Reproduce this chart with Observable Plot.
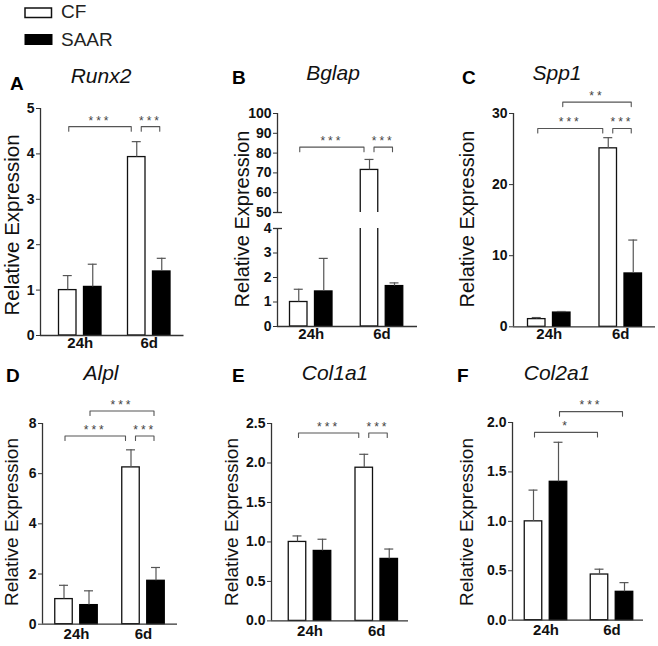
<!DOCTYPE html>
<html>
<head>
<meta charset="utf-8">
<script src="https://cdn.jsdelivr.net/npm/d3@7"></script>
<script src="https://cdn.jsdelivr.net/npm/@observablehq/plot@0.6"></script>
<style>
  body { margin: 0; background: #fff; }
  #fig { position: relative; width: 658px; height: 646px; overflow: hidden; background: #fff;
         font-family: "Liberation Sans", Arial, Helvetica, sans-serif; }
</style>
</head>
<body>
<div id="fig"></div>
<script>
// ---------------- data ----------------
const groups = ["24h", "6d"];
const series = ["CF", "SAAR"];
const panelLetters = ["A", "B", "C", "D", "E", "F"];
const geneNames = ["Runx2", "Bglap", "Spp1", "Alpl", "Col1a1", "Col2a1"];
const yLabel = "Relative Expression";

const runx2CF = [1.0, 3.93];
const runx2CFErr = [0.32, 0.34];
const runx2SAAR = [1.07, 1.41];
const runx2SAARErr = [0.50, 0.29];
const runx2Ticks = [0, 1, 2, 3, 4, 5];
const runx2Sig = [["24h", "CF", "6d", "CF", 4.6, "***"], ["6d", "CF", "6d", "SAAR", 4.6, "***"]];

const bglapCF = [1.0, 71.5];
const bglapCFErr = [0.52, 5.3];
const bglapSAAR = [1.43, 1.65];
const bglapSAARErr = [1.35, 0.13];
const bglapTicksLow = [0, 1, 2, 3, 4];
const bglapTicksHigh = [50, 60, 70, 80, 90, 100];
const bglapSig = [["24h", "CF", "6d", "CF", 83, "***"], ["6d", "CF", "6d", "SAAR", 83, "***"]];

const spp1CF = [1.08, 25.1];
const spp1CFErr = [0.22, 1.5];
const spp1SAAR = [2.0, 7.5];
const spp1SAARErr = [0.15, 4.7];
const spp1Ticks = [0, 10, 20, 30];
const spp1Sig = [["24h", "CF", "6d", "CF", 27.9, "***"], ["6d", "CF", "6d", "SAAR", 27.9, "***"], ["24h", "SAAR", "6d", "SAAR", 31.6, "**"]];

const alplCF = [1.0, 6.25];
const alplCFErr = [0.55, 0.70];
const alplSAAR = [0.76, 1.73];
const alplSAARErr = [0.57, 0.53];
const alplTicks = [0, 2, 4, 6, 8];
const alplSig = [["24h", "CF", "6d", "CF", 7.5, "***"], ["6d", "CF", "6d", "SAAR", 7.5, "***"], ["24h", "SAAR", "6d", "SAAR", 8.5, "***"]];

const col1a1CF = [1.0, 1.94];
const col1a1CFErr = [0.076, 0.17];
const col1a1SAAR = [0.886, 0.785];
const col1a1SAARErr = [0.148, 0.125];
const col1a1Ticks = [0, 0.5, 1.0, 1.5, 2.0, 2.5];
const col1a1Sig = [["24h", "CF", "6d", "CF", 2.38, "***"], ["6d", "CF", "6d", "SAAR", 2.38, "***"]];

const col2a1CF = [1.0, 0.462];
const col2a1CFErr = [0.316, 0.054];
const col2a1SAAR = [1.40, 0.287];
const col2a1SAARErr = [0.40, 0.093];
const col2a1Ticks = [0, 0.5, 1.0, 1.5, 2.0];
const col2a1Sig = [["24h", "CF", "6d", "CF", 1.90, "*"], ["24h", "SAAR", "6d", "SAAR", 2.11, "***"]];

// ---------------- layout ----------------
const FONT = '"Liberation Sans", Arial, Helvetica, sans-serif';
const intFmt = d => String(d);
const decFmt = d3.format(".1f");

const panels = [
  { cf: runx2CF, cfErr: runx2CFErr, saar: runx2SAAR, saarErr: runx2SAARErr, sig: runx2Sig, fmt: intFmt,
    ax: 39.5, xr: 183, g0: 79.25, g1: 148.25, xPad: 2,
    segs: [{ y0: 335, yTop: 108, dom: [0, 5], ticks: runx2Ticks, xAxis: true, sig: true }],
    letter: [10, 90], title: [101, 83], ylab: [18.5, 225, 20.5] },
  { cf: bglapCF, cfErr: bglapCFErr, saar: bglapSAAR, saarErr: bglapSAARErr, sig: bglapSig, fmt: intFmt,
    ax: 277, xr: 417, g0: 310.75, g1: 381.5, xPad: 2,
    segs: [{ y0: 212, yTop: 113, dom: [50, 100], ticks: bglapTicksHigh, xAxis: false, sig: true, brk: 50 },
           { y0: 326, yTop: 228, dom: [0, 4], ticks: bglapTicksLow, xAxis: true, sig: false, brk: 4 }],
    letter: [232, 84], title: [333, 80], ylab: [249, 219, 20] },
  { cf: spp1CF, cfErr: spp1CFErr, saar: spp1SAAR, saarErr: spp1SAARErr, sig: spp1Sig, fmt: intFmt,
    ax: 513, xr: 655, g0: 548.75, g1: 620.25, xPad: 2,
    segs: [{ y0: 326, yTop: 112.7, dom: [0, 30], ticks: spp1Ticks, xAxis: true, sig: true }],
    letter: [462, 84], title: [557, 80], ylab: [474, 219, 20] },
  { cf: alplCF, cfErr: alplCFErr, saar: alplSAAR, saarErr: alplSAARErr, sig: alplSig, fmt: intFmt,
    ax: 42, xr: 177, g0: 76, g1: 143, xPad: 4,
    segs: [{ y0: 624, yTop: 423.3, dom: [0, 8], ticks: alplTicks, xAxis: true, sig: true }],
    letter: [6, 382], title: [101, 380], ylab: [17.5, 522, 19] },
  { cf: col1a1CF, cfErr: col1a1CFErr, saar: col1a1SAAR, saarErr: col1a1SAARErr, sig: col1a1Sig, fmt: decFmt,
    ax: 271, xr: 408, g0: 309.5, g1: 376.25, xPad: 4,
    segs: [{ y0: 620.7, yTop: 423.3, dom: [0, 2.5], ticks: col1a1Ticks, xAxis: true, sig: true }],
    letter: [232, 382], title: [335, 380], ylab: [238, 522, 19] },
  { cf: col2a1CF, cfErr: col2a1CFErr, saar: col2a1SAAR, saarErr: col2a1SAARErr, sig: col2a1Sig, fmt: decFmt,
    ax: 512, xr: 643, g0: 545.5, g1: 611.5, xPad: 4,
    segs: [{ y0: 620, yTop: 422.3, dom: [0, 2.0], ticks: col2a1Ticks, xAxis: true, sig: true }],
    letter: [457, 382], title: [557, 380], ylab: [473, 522, 19] }
];

const fig = document.getElementById("fig");

function buildPanel(P) {
  const G = P.g1 - P.g0;
  const upp = 1 / G;                      // x units per pixel
  const xmin = -(P.g0 - P.ax) * upp;
  const xmax = 1 + (P.xr - P.g1) * upp;
  const half = 12.5 * upp, bw = 17.5 * upp, cap = 9 * upp;
  const pos = (g, s) => groups.indexOf(g) + (s === series[0] ? -half : half);

  const rows = [];
  groups.forEach((g, i) => {
    rows.push({ g, s: series[0], x: pos(g, series[0]), v: P.cf[i], e: P.cfErr[i] });
    rows.push({ g, s: series[1], x: pos(g, series[1]), v: P.saar[i], e: P.saarErr[i] });
  });
  const clip = P.segs.length > 1;

  P.segs.forEach(seg => {
    const mL = 40, mR = 8, mT = 40, mB = 30;
    const H = seg.y0 - seg.yTop;
    const ypp = (seg.dom[1] - seg.dom[0]) / H; // y units per pixel
    const width = (P.xr - P.ax) + mL + mR;
    const height = H + mT + mB;
    const marks = [];

    marks.push(Plot.rect(rows.filter(r => r.s === series[0]), {
      x1: r => r.x - bw / 2, x2: r => r.x + bw / 2, y1: 0, y2: "v",
      fill: "#fff", stroke: "#111", strokeWidth: 1.3, clip
    }));
    marks.push(Plot.rect(rows.filter(r => r.s === series[1]), {
      x1: r => r.x - bw / 2, x2: r => r.x + bw / 2, y1: 0, y2: "v",
      fill: "#000", stroke: "#000", strokeWidth: 1.3, clip
    }));
    marks.push(Plot.ruleX(rows, { x: "x", y1: "v", y2: r => r.v + r.e, stroke: "#555", strokeWidth: 1.2, clip }));
    marks.push(Plot.ruleY(rows, { y: r => r.v + r.e, x1: r => r.x - cap / 2, x2: r => r.x + cap / 2, stroke: "#555", strokeWidth: 1.2, clip }));

    // axis lines
    marks.push(Plot.ruleX([xmin], { y1: seg.dom[0], y2: seg.dom[1], stroke: "#333", strokeWidth: 1.3 }));
    if (seg.xAxis) marks.push(Plot.ruleY([seg.dom[0]], { x1: xmin, x2: xmax, stroke: "#333", strokeWidth: 1.3 }));
    if (seg.brk !== undefined) marks.push(Plot.ruleY([seg.brk], { x1: xmin - 4 * upp, x2: xmin + 5 * upp, stroke: "#333", strokeWidth: 1.3 }));

    marks.push(Plot.axisY({ ticks: seg.ticks, tickFormat: P.fmt, tickSize: 4, tickPadding: 2,
      fontSize: 14, fontWeight: "bold", stroke: "#333", fill: "#111", label: null }));
    if (seg.xAxis) marks.push(Plot.axisX({ ticks: [0, 1], tickFormat: i => groups[i], tickSize: 0,
      tickPadding: P.xPad, fontSize: 15, fontWeight: "bold", fill: "#111", label: null }));

    if (seg.sig) {
      const sig = P.sig.map(([ga, sa, gb, sb, level, label], i) => ({ ga, sa, gb, sb, level, label, i }));
      const same = (g1, s1, g2, s2) => g1 === g2 && s1 === s2;
      const pts = [];
      const labels = [];
      sig.forEach(b => {
        const sharedA = sig.some(o => o !== b && o.level === b.level && same(o.gb, o.sb, b.ga, b.sa));
        const sharedB = sig.some(o => o !== b && o.level === b.level && same(o.ga, o.sa, b.gb, b.sb));
        const x1 = pos(b.ga, b.sa) + (sharedA ? 4.5 : 1) * upp;
        const x2 = pos(b.gb, b.sb) - (sharedB ? 5.5 : 2) * upp;
        const drop = 4.5 * ypp;
        pts.push({ id: b.i, x: x1, y: b.level - drop }, { id: b.i, x: x1, y: b.level },
                 { id: b.i, x: x2, y: b.level }, { id: b.i, x: x2, y: b.level - drop });
        labels.push({ x: (x1 + x2) / 2, y: b.level, label: b.label });
      });
      marks.push(Plot.line(pts, { x: "x", y: "y", z: "id", stroke: "#555", strokeWidth: 1.1, curve: "linear" }));
      marks.push(Plot.text(labels, { x: "x", y: "y", text: "label", dy: -6, fontSize: 12,
        fontWeight: "normal", fill: "#444" }));
    }

    const svg = Plot.plot({
      width, height,
      marginLeft: mL, marginRight: mR, marginTop: mT, marginBottom: mB,
      x: Object.assign({ domain: [xmin, xmax], label: null }, seg.xAxis ? {} : { axis: null }),
      y: { domain: seg.dom, label: null },
      style: { fontFamily: FONT, fontSize: "14px", fontWeight: "bold", background: "transparent",
               overflow: "visible", color: "#111" },
      marks
    });
    svg.style.position = "absolute";
    svg.style.left = (P.ax - mL) + "px";
    svg.style.top = (seg.yTop - mT) + "px";
    svg.style.maxWidth = "none";
    d3.select(svg).selectAll("text")
      .filter(function () { return /^\*+$/.test(this.textContent); })
      .attr("letter-spacing", "3px");
    fig.appendChild(svg);
  });
}

panels.forEach(buildPanel);

// ---------------- overlay text & legend ----------------
const ov = d3.create("svg")
  .attr("width", 658).attr("height", 646)
  .style("position", "absolute").style("left", "0px").style("top", "0px")
  .style("pointer-events", "none")
  .style("font-family", FONT);

// legend
ov.append("rect").attr("x", 25).attr("y", 8).attr("width", 26.5).attr("height", 9.5)
  .attr("fill", "#fff").attr("stroke", "#111").attr("stroke-width", 1.5);
ov.append("rect").attr("x", 24.5).attr("y", 34).attr("width", 28).attr("height", 11)
  .attr("fill", "#000");
ov.append("text").attr("x", 61).attr("y", 17.5).attr("font-size", 19).attr("fill", "#222").text(series[0]);
ov.append("text").attr("x", 61).attr("y", 45.5).attr("font-size", 19).attr("fill", "#222").text(series[1]);

panels.forEach((P, i) => {
  ov.append("text").attr("x", P.letter[0]).attr("y", P.letter[1])
    .attr("font-size", 19).attr("font-weight", "bold").attr("fill", "#000").text(panelLetters[i]);
  ov.append("text").attr("x", P.title[0]).attr("y", P.title[1]).attr("text-anchor", "middle")
    .attr("font-size", 21).attr("font-style", "italic").attr("fill", "#111").text(geneNames[i]);
  ov.append("text").attr("transform", `translate(${P.ylab[0]},${P.ylab[1]}) rotate(-90)`)
    .attr("text-anchor", "middle").attr("font-size", P.ylab[2]).attr("fill", "#111").text(yLabel);
});

fig.appendChild(ov.node());
</script>
</body>
</html>
